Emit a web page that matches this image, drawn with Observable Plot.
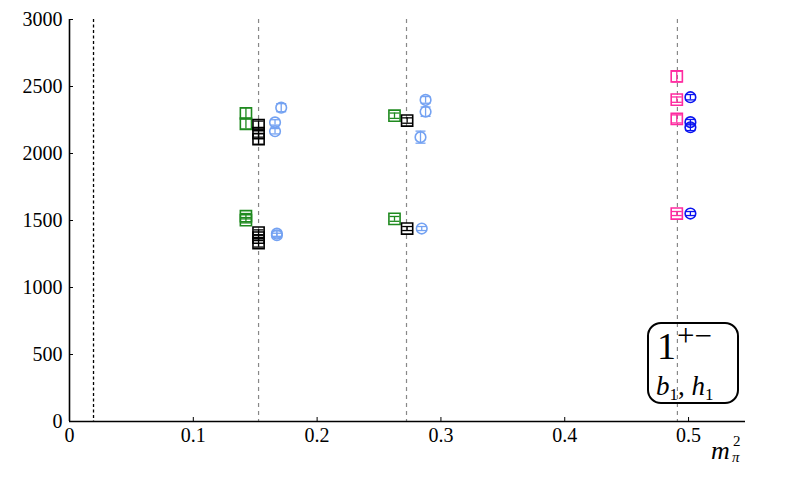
<!DOCTYPE html>
<html>
<head>
<meta charset="utf-8">
<script src="https://cdn.jsdelivr.net/npm/d3@7"></script>
<script src="https://cdn.jsdelivr.net/npm/@observablehq/plot@0.6"></script>
<style>
  body { margin: 0; background: #fff; }
  #wrap { position: relative; width: 797px; height: 479px; font-family: "Liberation Serif", "DejaVu Serif", serif; }
  #chart svg, #chart svg text { font-family: "Liberation Serif", "DejaVu Serif", serif !important; }
  #legend { position: absolute; left: 647px; top: 322px; width: 88px; height: 78px; border: 2px solid #000; border-radius: 14px; }
  .xl { position: absolute; font-style: italic; line-height: 1; white-space: nowrap; }
</style>
</head>
<body>
<div id="wrap">
  <div id="chart"></div>
  <div id="legend">
    <div style="position:absolute;left:8px;top:3px;font-size:38px;line-height:1;white-space:nowrap;">1<span style="font-size:31px;position:relative;top:-13px;margin-left:1px;">+−</span></div>
    <div style="position:absolute;left:7px;top:49px;font-size:27px;font-style:italic;line-height:1;white-space:nowrap;">b<span style="font-style:normal;font-size:17px;position:relative;top:5px;">1</span><span style="font-style:normal;">,</span> h<span style="font-style:normal;font-size:17px;position:relative;top:5px;">1</span></div>
  </div>
  <div class="xl" style="left:711px;top:438px;font-size:26px;">m</div>
  <div class="xl" style="left:733px;top:434px;font-size:15px;font-style:normal;">2</div>
  <div class="xl" style="left:732px;top:450px;font-size:15px;">π</div>
</div>
<script>
// Pion mass squared values (vertical reference lines)
const mpi2Lines = [0.1527, 0.2722, 0.491];
const physicalMpi2 = [0.0194];

// Series: x position (as plotted), mass value, error
const greenX = [0.1425, 0.1425, 0.1425, 0.1425, 0.2625, 0.2625];
const greenY = [2300, 2222, 1532, 1502, 2282, 1512];
const greenE = [40, 40, 20, 20, 20, 18];

const blackX = [0.1527, 0.1527, 0.1527, 0.1527, 0.1527, 0.1527, 0.2727, 0.2727];
const blackY = [2212, 2152, 2108, 1410, 1372, 1332, 2246, 1440];
const blackE = [30, 30, 40, 20, 22, 30, 20, 15];

const lblueX = [0.166, 0.166, 0.171, 0.1675, 0.1675, 0.2876, 0.2876, 0.2835, 0.2845];
const lblueY = [2232, 2166, 2342, 1402, 1390, 2400, 2312, 2122, 1440];
const lblueE = [20, 20, 30, 20, 15, 25, 35, 45, 15];

const magentaX = [0.4905, 0.4905, 0.4905, 0.4905];
const magentaY = [2575, 2402, 2258, 1552];
const magentaE = [40, 20, 30, 15];

const blueX = [0.5015, 0.5015, 0.5015, 0.5015];
const blueY = [2420, 2234, 2196, 1552];
const blueE = [20, 20, 25, 15];

const xTicks = [0, 0.1, 0.2, 0.3, 0.4, 0.5];
const xTickLabels = ["0", "0.1", "0.2", "0.3", "0.4", "0.5"];
const yTicks = [0, 500, 1000, 1500, 2000, 2500, 3000];

function series(xs, ys, es, color, symbol) {
  return xs.map((x, i) => ({x, y: ys[i], lo: ys[i] - es[i], hi: ys[i] + es[i], color, symbol}));
}
const data = [
  ...series(greenX, greenY, greenE, "#1f8a1f", "square"),
  ...series(blackX, blackY, blackE, "#000000", "square"),
  ...series(lblueX, lblueY, lblueE, "#74a2f2", "circle"),
  ...series(magentaX, magentaY, magentaE, "#ff2aa0", "square"),
  ...series(blueX, blueY, blueE, "#0a14f0", "circle")
];

const capSymbol = {
  draw(ctx, size) {
    const r = Math.sqrt(size / Math.PI);
    ctx.moveTo(-r, 0); ctx.lineTo(r, 0);
  }
};

const chart = Plot.plot({
  width: 797,
  height: 479,
  marginLeft: 69,
  marginRight: 52,
  marginTop: 19,
  marginBottom: 58,
  style: "font-family: 'Liberation Serif', serif; font-size: 20px; color: #000; background: #fff;",
  x: {domain: [0, 0.546]},
  y: {domain: [0, 3000]},
  marks: [
    Plot.ruleX(physicalMpi2, {stroke: "#000", strokeWidth: 1.3, strokeDasharray: "3,2.5"}),
    Plot.ruleX(mpi2Lines, {stroke: "#888", strokeWidth: 1.2, strokeDasharray: "4,4"}),
    Plot.ruleX(data, {x: "x", y1: "lo", y2: "hi", stroke: "color", strokeWidth: 1.3}),
    Plot.dot(data, {x: "x", y: "lo", symbol: capSymbol, r: 5, stroke: "color", strokeWidth: 1.3}),
    Plot.dot(data, {x: "x", y: "hi", symbol: capSymbol, r: 5, stroke: "color", strokeWidth: 1.3}),
    Plot.dot(data.filter(d => d.symbol === "square"), {x: "x", y: "y", symbol: "square", r: 6.3, stroke: "color", fill: "none", strokeWidth: 1.6}),
    Plot.dot(data.filter(d => d.symbol === "circle"), {x: "x", y: "y", symbol: "circle", r: 5.3, stroke: "color", fill: "none", strokeWidth: 1.6}),
    Plot.ruleX([0], {stroke: "#000", strokeWidth: 1.6}),
    Plot.ruleY([0], {stroke: "#000", strokeWidth: 1.6}),
    Plot.axisX({ticks: xTicks, tickFormat: (d, i) => xTickLabels[i], tickSize: -4, tickPadding: 10, label: null, stroke: "#000", fontSize: 20}),
    Plot.axisY({ticks: yTicks, tickFormat: d => String(d), tickSize: -4, tickPadding: 11, label: null, stroke: "#000", fontSize: 20})
  ]
});
document.getElementById("chart").appendChild(chart);
</script>
</body>
</html>
